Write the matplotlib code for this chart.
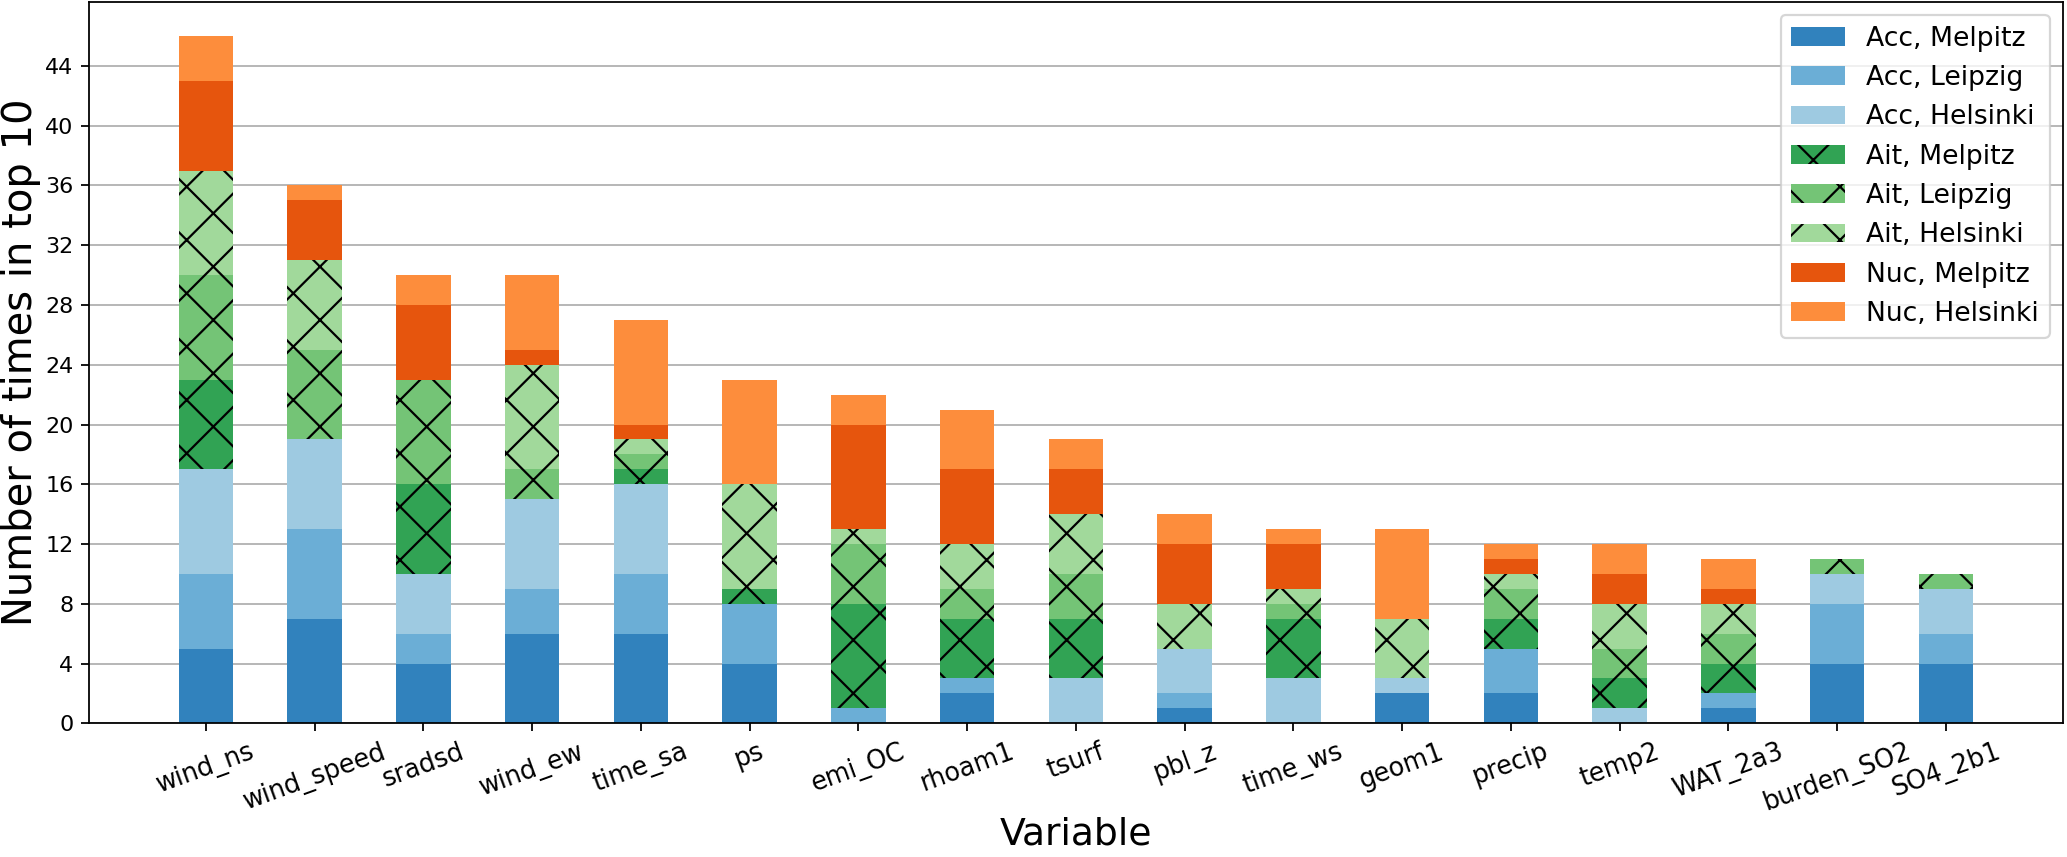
import numpy as np
import matplotlib.pyplot as plt

variables = ["wind_ns", "wind_speed", "sradsd", "wind_ew", "time_sa", "ps", "emi_OC",
             "rhoam1", "tsurf", "pbl_z", "time_ws", "geom1", "precip", "temp2",
             "WAT_2a3", "burden_SO2", "SO4_2b1"]

acc_melpitz = [5, 7, 4, 6, 6, 4, 0, 2, 0, 1, 0, 2, 2, 0, 1, 4, 4]
acc_leipzig = [5, 6, 2, 3, 4, 4, 1, 1, 0, 1, 0, 0, 3, 0, 1, 4, 2]
acc_helsinki = [7, 6, 4, 6, 6, 0, 0, 0, 3, 3, 3, 1, 0, 1, 0, 2, 3]
ait_melpitz = [6, 0, 6, 0, 1, 1, 7, 4, 4, 0, 4, 0, 2, 2, 2, 0, 0]
ait_leipzig = [7, 6, 7, 2, 1, 0, 4, 2, 3, 0, 1, 0, 2, 2, 2, 1, 1]
ait_helsinki = [7, 6, 0, 7, 1, 7, 1, 3, 4, 3, 1, 4, 1, 3, 2, 0, 0]
nuc_melpitz = [6, 4, 5, 1, 1, 0, 7, 5, 3, 4, 3, 0, 1, 2, 1, 0, 0]
nuc_helsinki = [3, 1, 2, 5, 7, 7, 2, 4, 2, 2, 1, 6, 1, 2, 2, 0, 0]

series = [acc_melpitz, acc_leipzig, acc_helsinki, ait_melpitz, ait_leipzig,
          ait_helsinki, nuc_melpitz, nuc_helsinki]
labels = ["Acc, Melpitz", "Acc, Leipzig", "Acc, Helsinki", "Ait, Melpitz",
          "Ait, Leipzig", "Ait, Helsinki", "Nuc, Melpitz", "Nuc, Helsinki"]
colors = ["#3182bd", "#6baed6", "#9ecae1", "#31a354", "#74c476", "#a1d99b",
          "#e6550d", "#fd8d3c"]
hatches = [None, None, None, "x", "x", "x", None, None]

fig, ax = plt.subplots(figsize=(2067 / 160, 857 / 160), dpi=160)
fig.subplots_adjust(left=0.043, right=0.998, bottom=0.156, top=0.998)

x = np.arange(len(variables))
bottom = np.zeros(len(variables))
for vals, lab, col, h in zip(series, labels, colors, hatches):
    ax.bar(x, vals, width=0.5, bottom=bottom, label=lab, color=col, hatch=h)
    bottom += np.array(vals)

ax.set_axisbelow(True)
ax.yaxis.grid(True)
ax.set_yticks(np.arange(0, 45, 4))
ax.tick_params(axis="y", labelsize=10)
ax.set_xticks(x)
ax.set_xticklabels(variables, rotation=20, fontsize=11.5)
ax.set_xlabel("Variable", fontsize=17, labelpad=0)
ax.set_ylabel("Number of times in top 10", fontsize=18, labelpad=2)
ax.legend(loc="upper right", fontsize=12)

fig.savefig("out.png", dpi=160)
